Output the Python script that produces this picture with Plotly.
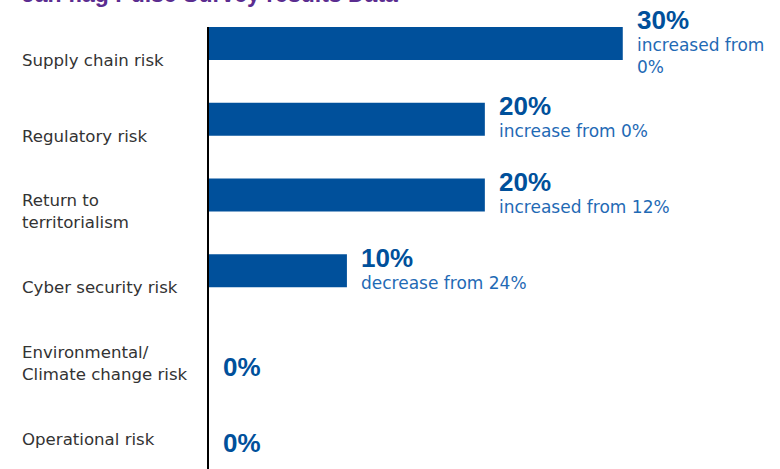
import plotly.graph_objects as go

categories = ["Supply chain risk", "Regulatory risk", "Return to<br>territorialism",
              "Cyber security risk", "Environmental/<br>Climate change risk", "Operational risk"]
values = [30, 20, 20, 10, 0, 0]
value_labels = ["30%", "20%", "20%", "10%", "0%", "0%"]
notes = ["increased from<br>0%", "increase from 0%", "increased from 12%",
         "decrease from 24%", "", ""]
title_text = "Jan flag Pulse Survey results Data"

BAR = "#00509B"
SUB = "#1F6AB5"
ids = list(range(len(categories)))

fig = go.Figure()
fig.add_trace(go.Bar(
    x=values, y=ids, orientation="h", width=0.436,
    marker=dict(color=BAR, line=dict(width=0)),
    hoverinfo="skip",
))

annotations = []
for i, cat in enumerate(categories):
    annotations.append(dict(
        x=-0.3305, xref="paper", y=i, yref="y", xanchor="left", yanchor="middle",
        align="left", text=cat, showarrow=False, yshift=-17,
        font=dict(family="DejaVu Sans", size=16.6, color="#333333"),
    ))
for i, (v, lab, note) in enumerate(zip(values, value_labels, notes)):
    big = f'<span style="font-family:Liberation Sans;font-size:26px;font-weight:bold;color:{BAR}">{lab}</span>'
    txt = big + (f"<br>{note}" if note else "")
    annotations.append(dict(
        x=v, xref="x", y=i, yref="y", xanchor="left", yanchor="middle",
        align="left", text=txt, showarrow=False, xshift=12,
        yshift=(-21 if not note else 3),
        font=dict(family="DejaVu Sans", size=17, color=SUB),
    ))
annotations.append(dict(
    x=-0.3305, xref="paper", y=1, yref="paper", xanchor="left", yanchor="bottom",
    text=f"<b>{title_text}</b>", showarrow=False, yshift=18,
    font=dict(family="Liberation Sans", size=23, color="#5B2D90"),
))

fig.update_layout(
    width=780, height=469,
    margin=dict(l=209, r=0, t=27, b=0, pad=0),
    paper_bgcolor="white", plot_bgcolor="white",
    showlegend=False,
    xaxis=dict(range=[0, 41.4], visible=False, fixedrange=True),
    yaxis=dict(range=[5.62, -0.218], showticklabels=False, showgrid=False,
               zeroline=False, showline=True, linecolor="#000000", linewidth=2,
               ticks="", fixedrange=True),
    annotations=annotations,
)

fig.write_html("out.html", config={"displayModeBar": False},
               post_script="document.body.style.margin='0';document.body.style.overflow='hidden';")
